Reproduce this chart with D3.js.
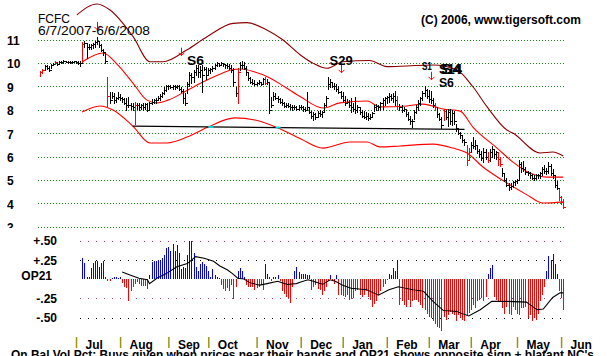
<!DOCTYPE html>
<html><head><meta charset="utf-8">
<script src="https://cdn.jsdelivr.net/npm/d3@7"></script>
<style>
html,body{margin:0;padding:0;background:#fff;overflow:hidden;}
svg{display:block;}
text{font-family:"Liberation Sans",Arial,sans-serif;}
</style></head><body>
<svg id="c" width="607" height="356"></svg>
<script>
// ---------- DATA ----------
const highs=[9.65,9.75,9.9,9.9,9.85,9.95,10.0,10.1,10.05,10.08,
10.1,10.12,10.1,10.1,10.08,10.1,10.1,10.1,10.1,10.1,
10.9,10.95,10.85,10.8,10.8,10.85,10.95,11.1,10.95,10.8,
10.6,10.45,9.4,8.75,8.75,8.7,8.55,8.75,8.65,8.55,
8.5,8.5,8.55,8.3,8.3,8.35,8.3,8.3,8.25,8.3,
8.3,8.3,8.35,8.45,8.45,8.5,8.6,8.65,8.75,8.95,
9.05,9.06,9.05,9.06,9.05,9.06,9.06,8.98,8.9,8.7,
9.2,9.6,9.55,9.7,9.9,9.9,9.85,9.9,9.84,9.84,
9.77,9.8,9.85,9.95,10.05,10.0,10.05,10.0,9.95,10.0,
9.95,9.9,9.8,8.95,9.8,10.05,10.1,10.05,9.85,9.6,
9.4,9.3,9.25,9.2,9.25,9.2,9.35,9.4,9.3,9.15,
8.55,8.75,8.7,8.6,8.5,8.45,8.35,8.3,8.3,8.25,
8.2,8.2,8.15,8.2,8.2,8.15,8.1,8.75,8.1,7.95,
7.9,7.85,7.95,8.0,7.95,8.3,8.6,9.4,9.3,9.2,
9.15,9.1,9.0,8.8,8.75,8.6,8.45,8.4,8.5,8.3,
8.55,8.2,8.1,8.0,7.95,7.9,7.85,7.8,7.9,8.2,
8.25,8.2,8.35,8.5,8.55,8.6,8.7,8.65,8.7,8.8,
8.6,8.25,8.2,8.1,8.0,7.9,7.75,7.6,8.0,8.2,
8.4,8.55,8.8,9.0,8.9,8.85,8.8,8.5,8.3,8.1,
7.85,7.7,8.05,8.0,8.05,8.05,8.0,7.95,7.4,7.2,
7.05,6.9,6.75,6.5,6.35,6.6,6.85,6.7,6.5,6.3,
6.25,6.35,6.3,6.2,6.3,6.45,6.3,6.25,6.2,6.0,
5.5,5.3,5.1,4.85,4.85,4.95,5.0,5.05,5.85,5.75,
5.8,5.55,5.4,5.35,5.25,5.2,5.25,5.25,5.35,5.55,
5.65,5.5,5.75,5.7,5.45,5.15,4.95,4.6,4.3,4.2];
const lows=[9.45,9.55,9.7,9.75,9.65,9.8,9.9,9.95,9.9,9.95,
10.0,10.0,10.02,10.0,10.0,10.0,10.02,10.0,9.95,9.85,
10.05,10.7,10.2,10.6,10.6,10.65,10.7,10.8,10.7,10.5,
10.35,10.0,8.15,8.3,8.5,8.3,8.35,8.45,8.4,8.35,
8.25,8.0,8.1,8.05,8.0,7.4,8.05,8.0,8.05,8.0,
8.05,7.95,8.0,8.25,8.3,8.3,8.4,8.4,8.55,8.65,
8.8,8.9,8.92,8.9,8.9,8.92,8.85,8.77,8.3,8.2,
8.7,9.0,9.13,9.2,9.5,9.4,9.4,8.77,9.7,9.3,
9.5,9.55,9.65,9.75,9.85,9.85,9.9,9.85,9.8,9.8,
9.75,9.6,9.0,8.6,8.3,9.7,9.8,9.75,9.5,9.25,
9.15,9.1,9.05,9.05,9.1,9.05,9.15,9.1,9.1,7.85,
8.1,8.4,8.45,8.35,8.3,8.2,8.1,8.1,8.1,8.05,
8.0,8.05,8.0,8.0,8.05,7.95,7.95,8.05,7.85,7.65,
7.55,7.6,7.7,7.75,7.7,7.95,8.15,8.9,8.95,8.95,
8.9,8.8,8.7,8.5,8.35,8.2,8.3,8.1,7.9,7.95,
7.85,7.9,7.8,7.7,7.65,7.6,7.55,7.6,7.7,7.95,
8.0,8.0,8.0,8.05,8.2,8.3,8.35,8.4,8.35,8.2,
8.05,8.0,7.9,7.95,7.75,7.55,7.4,7.25,7.6,7.85,
8.0,8.2,8.4,8.6,8.5,8.35,8.3,8.1,8.0,7.7,
7.55,7.2,7.55,7.6,7.3,7.4,7.35,7.4,7.1,6.95,
6.8,6.6,6.5,5.65,5.9,6.2,6.35,6.3,6.15,6.0,
5.85,5.75,5.9,5.75,5.8,6.0,5.95,5.9,5.65,5.6,
5.15,4.95,4.75,4.57,4.6,4.7,4.8,4.85,5.0,5.35,
5.4,5.25,5.2,5.1,5.05,5.0,5.05,5.1,5.1,5.2,
5.3,5.25,5.3,5.2,5.1,4.7,4.6,4.15,3.95,3.8];
const closes=[9.6,9.7,9.85,9.8,9.7,9.9,9.95,10.05,9.95,10.05,
10.05,10.1,10.05,10.05,10.05,10.05,10.08,10.05,10.0,10.0,
10.8,10.85,10.7,10.7,10.75,10.8,10.9,10.95,10.75,10.55,
10.45,10.1,8.6,8.4,8.6,8.4,8.5,8.55,8.5,8.45,
8.3,8.2,8.2,8.15,8.1,8.2,8.2,8.1,8.2,8.1,
8.25,8.0,8.3,8.35,8.4,8.4,8.5,8.6,8.7,8.85,
9.0,9.0,8.98,9.02,8.95,9.0,8.9,8.8,8.5,8.3,
9.1,9.5,9.4,9.6,9.8,9.6,9.7,9.5,9.75,9.5,
9.7,9.75,9.8,9.9,10.0,9.9,10.0,9.95,9.9,9.85,
9.8,9.7,9.2,8.7,9.6,9.9,9.9,9.8,9.6,9.35,
9.2,9.15,9.1,9.15,9.2,9.1,9.3,9.15,9.2,8.0,
8.2,8.6,8.5,8.45,8.35,8.3,8.15,8.2,8.15,8.1,
8.1,8.1,8.05,8.1,8.1,8.05,8.0,8.1,7.9,7.75,
7.8,7.7,7.85,7.8,7.9,8.2,8.5,9.1,9.2,9.0,
9.0,8.9,8.75,8.6,8.4,8.3,8.35,8.2,8.1,8.05,
8.0,8.1,7.9,7.75,7.7,7.75,7.65,7.7,7.85,8.1,
8.15,8.1,8.3,8.4,8.5,8.55,8.6,8.5,8.6,8.4,
8.15,8.1,8.0,8.05,7.8,7.6,7.5,7.5,7.9,8.1,
8.3,8.5,8.7,8.85,8.6,8.45,8.4,8.2,8.1,7.8,
7.6,7.35,7.95,7.7,7.9,7.5,7.85,7.5,7.2,7.0,
6.9,6.7,6.6,5.85,6.2,6.5,6.45,6.5,6.25,6.1,
5.95,6.2,6.0,5.85,6.2,6.3,6.1,6.2,5.9,5.7,
5.3,5.0,4.8,4.7,4.75,4.9,4.95,5.0,5.7,5.5,
5.45,5.35,5.3,5.2,5.1,5.1,5.2,5.2,5.3,5.45,
5.4,5.4,5.6,5.3,5.2,4.8,4.65,4.25,4.05,3.85];
const redDays=[0,1,7,20,32,45,94,107,170,188,192,203,204,213,218,219,247,248,249];

const upperBand=[[17.4,12.05],[27,12.52],[33.2,12.26],[44.2,11.12],[52.2,10.05],[58.4,10.05],[69.7,10.55],[79.4,11.12],[91.8,11.69],[98.4,11.72],[107.9,11.41],[115.6,10.98],[123.7,10.35],[130,9.98],[136.5,9.77],[144.1,10.05],[156.8,10.1],[165,9.84],[174.6,9.87],[187,9.91],[198.4,9.7],[206,8.98],[212.7,8.13],[222.2,7.13],[225,7.0],[238,6.15],[244,6.19],[249,6.02]];
const midBand=[[19.9,10.04],[29.9,10.42],[36.5,9.95],[44.1,9.14],[50.8,8.41],[55.6,8.29],[60.8,8.41],[70.3,8.84],[76.5,9.14],[84.6,9.48],[90.8,9.70],[95.6,9.74],[102.2,9.61],[108.4,9.40],[116.5,8.97],[124.1,8.54],[134.6,8.07],[142.7,8.29],[155.6,8.37],[161.8,8.12],[174.6,8.16],[182.2,8.24],[191.8,8.03],[199.9,7.94],[206,7.26],[217.5,6.36],[225.1,5.76],[233.2,5.29],[241.3,5.12],[249,5.12]];
const lowerBand=[[19.9,7.90],[28.4,8.16],[34.6,7.99],[44.1,7.30],[52.2,6.58],[60.3,6.58],[69.9,6.83],[79.9,7.26],[92.7,7.65],[102.2,7.56],[113.2,7.22],[124.1,6.75],[134.6,6.36],[147.5,6.62],[155.6,6.62],[161.8,6.41],[171.3,6.45],[187,6.53],[196.5,6.36],[203.2,6.15],[210.8,5.55],[222.2,4.87],[231.8,4.36],[239.4,4.01],[249,4.06]];
const trendLine=[[44,7.30],[202,7.16]];
const crossDays=[81,113];
const priceTicks=[11,10,9,8,7,6,5,4,3];

const op21Start=20;
const op21=[0.27,0.21,0.03,0.03,0.14,0.21,0.23,0.23,0.16,0.21,
0.23,0.03,-0.03,-0.03,0.01,0.02,0.02,0.01,0.02,-0.05,
-0.10,-0.12,-0.29,-0.15,-0.10,-0.07,-0.04,-0.06,-0.09,-0.09,
-0.09,-0.13,0.05,0.22,0.23,0.23,0.25,0.23,0.27,0.31,
0.40,0.42,0.36,0.46,0.37,0.44,0.34,0.13,0.15,0.14,
0.31,0.50,0.50,0.34,0.16,0.11,0.20,0.22,0.20,0.17,
0.11,0.03,0.13,0.05,0.02,0.01,-0.08,-0.13,-0.16,-0.12,
-0.16,-0.08,-0.26,-0.10,0.10,0.14,0.10,0.02,-0.08,-0.10,
-0.10,-0.11,-0.14,-0.12,-0.10,-0.08,-0.14,0.20,0.07,0.02,
-0.02,0.02,0.03,0.05,-0.02,-0.16,-0.20,-0.23,-0.25,-0.31,
-0.10,0.11,0.16,0.09,0.07,0.07,0.07,0.05,0.05,-0.14,
-0.10,-0.08,-0.13,-0.14,-0.21,-0.16,-0.10,-0.03,0.05,-0.03,
-0.06,0.05,-0.21,-0.21,-0.22,-0.23,-0.21,-0.27,-0.26,-0.25,
-0.16,-0.14,-0.21,-0.23,-0.21,-0.16,-0.23,-0.27,-0.36,-0.33,
-0.29,-0.21,-0.16,-0.10,-0.06,-0.01,0.06,0.05,0.14,0.10,
0.25,-0.34,-0.29,-0.34,-0.36,-0.27,-0.36,-0.29,-0.27,-0.27,
-0.30,-0.34,-0.38,-0.40,-0.45,-0.49,-0.51,-0.55,-0.58,-0.62,
-0.64,-0.68,-0.49,-0.53,-0.47,-0.43,-0.45,-0.47,-0.54,-0.47,
-0.51,-0.53,-0.54,-0.47,-0.44,-0.40,-0.34,-0.38,-0.29,-0.27,
-0.25,-0.29,-0.23,0.07,0.14,0.18,-0.23,-0.27,-0.29,-0.29,
-0.38,-0.45,-0.36,-0.45,-0.47,-0.36,-0.40,-0.45,-0.47,-0.38,
-0.38,-0.36,-0.51,-0.47,-0.55,-0.50,-0.53,-0.45,-0.29,-0.21,
-0.10,0.10,0.30,0.25,0.32,0.20,0.07,-0.16,-0.25,-0.40];
const op21Avg=[[39,0.09],[43,0.05],[47,0.01],[51,-0.01],[52,-0.06],[55.5,0.01],[60,0.07],[65,0.16],[70,0.20],[74,0.29],[78,0.27],[82.5,0.23],[85.5,0.17],[89,0.12],[91.5,0.07],[94,0.01],[97,0.0],[100,-0.05],[104.5,-0.08],[108,-0.06],[113,-0.03],[117.5,-0.07],[122,-0.06],[124,-0.04],[127.5,-0.01],[130,-0.03],[134.5,-0.07],[138,-0.01],[140.5,-0.03],[144,-0.08],[148,-0.12],[155.5,-0.14],[161,-0.21],[166,-0.14],[170.5,-0.10],[177.5,-0.14],[182.5,-0.16],[187,-0.29],[192,-0.41],[198,-0.42],[204,-0.48],[209.5,-0.40],[215,-0.29],[222,-0.29],[231.5,-0.30],[236.5,-0.40],[239.5,-0.39],[244,-0.24],[247.5,-0.18],[249,-0.18]];
const op21Ticks=[0.5,0.25,-0.25,-0.5];
const op21TickLabels=["+.50","+.25","-.25","-.50"];

const monthDays=[17,38,61,80,103,124,144,165,185,205,227,248];
const monthNames=["Jul","Aug","Sep","Oct","Nov","Dec","Jan","Feb","Mar","Apr","May","Jun"];

const signalDays=[27,67,143,186];
const signalTops=[11.75,10.65,9.92,9.62];

// ---------- DRAWING ----------
const svg=d3.select("#c");
const nDays=highs.length;
const x=d3.scaleLinear().domain([0,nDays-1]).range([40.3,40.3+2.1*(nDays-1)]);
const yP=d3.scaleLinear().domain([3,11]).range([226.7,39.5]);
const yO=d3.scaleLinear().domain([-0.5,0.5]).range([317.5,240.5]);
const px=v=>Math.round(v)+0.5;

// price grid
svg.append("g").selectAll("line").data(priceTicks).join("line")
  .attr("x1",38).attr("x2",566)
  .attr("y1",d=>px(yP(d))).attr("y2",d=>px(yP(d)))
  .attr("stroke","#1a8a1a").attr("stroke-width",1).attr("stroke-dasharray","1,2");

// price axis labels
svg.append("defs").append("clipPath").attr("id","pclip")
  .append("rect").attr("x",0).attr("y",0).attr("width",36).attr("height",228);
const pAxis=svg.append("g").attr("transform","translate(7,0)").attr("clip-path","url(#pclip)")
  .call(d3.axisRight(yP).tickValues(priceTicks).tickSize(0).tickPadding(0).tickFormat(d3.format("d")));
pAxis.select(".domain").remove();
pAxis.selectAll("text").attr("font-family","'Liberation Sans',Arial,sans-serif")
  .attr("font-weight","bold").attr("font-size",12).attr("fill","#000").attr("dy","0.42em");

// bands
const bandLine=d3.line().x(d=>x(d[0])).y(d=>yP(d[1])).curve(d3.curveMonotoneX);
svg.append("path").attr("d",bandLine(upperBand)).attr("fill","none").attr("stroke","#8b0000").attr("stroke-width",1.1);
svg.append("path").attr("d",bandLine(midBand)).attr("fill","none").attr("stroke","#ff0000").attr("stroke-width",1.1);
svg.append("path").attr("d",bandLine(lowerBand)).attr("fill","none").attr("stroke","#ff0000").attr("stroke-width",1.1);

// trend line
svg.append("line").attr("x1",x(trendLine[0][0])).attr("x2",x(trendLine[1][0]))
  .attr("y1",yP(trendLine[0][1])).attr("y2",yP(trendLine[1][1]))
  .attr("stroke","#000").attr("stroke-width",1.2);
const trendAt=d3.scaleLinear().domain([trendLine[0][0],trendLine[1][0]]).range([trendLine[0][1],trendLine[1][1]]);
svg.append("g").selectAll("rect").data(crossDays).join("rect")
  .attr("x",d=>x(d)-2).attr("y",d=>yP(trendAt(d))-1).attr("width",5).attr("height",2)
  .attr("fill","#00e0e0");

// price bars
const redSet=new Set(redDays);
const bars=svg.append("g").attr("shape-rendering","crispEdges");
d3.range(nDays).forEach(i=>{
  const c=redSet.has(i)?"#ff0000":"#000";
  const xx=px(x(i));
  bars.append("line").attr("x1",xx).attr("x2",xx).attr("y1",yP(highs[i])).attr("y2",yP(lows[i])+1).attr("stroke",c);
  bars.append("line").attr("x1",xx).attr("x2",xx+2).attr("y1",px(yP(closes[i]))).attr("y2",px(yP(closes[i]))).attr("stroke",c);
});

// signal arrows
const arr=svg.append("g").attr("stroke","#ff0000").attr("stroke-width",1).attr("fill","none");
signalDays.forEach((d,k)=>{
  const xx=px(x(d)), t=yP(signalTops[k]), b=t+8;
  arr.append("path").attr("d",`M${xx},${t}V${b}M${xx-3},${b-3}L${xx},${b}L${xx+3},${b-3}`);
});

// signal labels
function label(txt,xx,yy,size,w){
  const t=svg.append("text").attr("x",xx).attr("y",yy).attr("font-weight","bold")
    .attr("font-size",size).attr("fill","#000").text(txt);
  if(w) t.attr("textLength",w).attr("lengthAdjust","spacingAndGlyphs");
  return t;
}
label("S6",x(signalDays[1])+6,65,13,17);
label("S29",x(signalDays[2])-11,65,13,23);
label("S1",x(signalDays[3])-9,70,11,10);
label("S14",x(signalDays[3])+8,74,15,23);
label("S4",x(signalDays[3])+10,74,15,21);
label("S6",x(signalDays[3])+8,87,13,15);

// title texts
svg.append("text").attr("x",38).attr("y",23).attr("font-family","'DejaVu Sans',sans-serif")
  .attr("font-size",12).attr("fill","#000").text("FCFC");
svg.append("text").attr("x",38).attr("y",35).attr("font-family","'DejaVu Sans',sans-serif")
  .attr("font-size",12).attr("fill","#000").attr("textLength",112).attr("lengthAdjust","spacingAndGlyphs")
  .text("6/7/2007-6/6/2008");
svg.append("text").attr("x",421).attr("y",24).attr("font-weight","bold").attr("font-size",12)
  .attr("fill","#000").attr("textLength",160).attr("lengthAdjust","spacingAndGlyphs")
  .text("(C) 2006, www.tigersoft.com");

// ---------- OP21 panel ----------
const gridCols=["#9a3a7a","#000","#9a3a7a","#000"];
svg.append("g").selectAll("line").data(op21Ticks).join("line")
  .attr("x1",80).attr("x2",566)
  .attr("y1",d=>px(yO(d))).attr("y2",d=>px(yO(d)))
  .attr("stroke",(d,i)=>gridCols[i]).attr("stroke-width",1).attr("stroke-dasharray","1,7");

const oBars=svg.append("g").attr("shape-rendering","crispEdges");
op21.forEach((v,k)=>{
  const i=op21Start+k;
  const y0=yO(0), y1=yO(v);
  oBars.append("rect").attr("x",Math.round(x(i))).attr("width",1)
    .attr("y",Math.min(y0,y1)).attr("height",Math.max(1,Math.abs(y1-y0)))
    .attr("fill",v>=0?"#0000ff":"#ff0000");
});
svg.append("path").attr("d",d3.line().x(d=>x(d[0])).y(d=>yO(d[1]))(op21Avg))
  .attr("fill","none").attr("stroke","#000").attr("stroke-width",1.1);

const oAxis=svg.append("g").attr("transform","translate(57,0)")
  .call(d3.axisLeft(yO).tickValues(op21Ticks).tickSize(0).tickPadding(0).tickFormat((d,i)=>op21TickLabels[i]));
oAxis.select(".domain").remove();
oAxis.selectAll("text").attr("font-family","'Liberation Sans',Arial,sans-serif")
  .attr("font-weight","bold").attr("font-size",12).attr("fill","#000").attr("dy","0.36em");
svg.append("text").attr("x",52).attr("y",280).attr("text-anchor","end").attr("font-weight","bold")
  .attr("font-size",12).attr("fill","#000").text("OP21");

// month axis
const mAxis=svg.append("g").attr("transform","translate(0,337)")
  .call(d3.axisBottom(x).tickValues(monthDays).tickSize(11).tickFormat((d,i)=>monthNames[i]));
mAxis.select(".domain").remove();
mAxis.selectAll(".tick line").attr("stroke","#9c9410").attr("stroke-width",1.5);
mAxis.selectAll("text").attr("font-family","'Liberation Sans',Arial,sans-serif")
  .attr("font-weight","bold").attr("font-size",12).attr("fill","#000")
  .attr("text-anchor","start").attr("x",9).attr("y",12).attr("dy",0);

// bottom note (cut off by the frame)
svg.append("text").attr("x",11).attr("y",359).attr("font-weight","bold").attr("font-size",12)
  .attr("fill","#000").attr("textLength",583).attr("lengthAdjust","spacingAndGlyphs")
  .text("On Bal Vol Pct: Buys given when prices near their bands and OP21 shows opposite sign + blatant NC's");
</script>
</body></html>
